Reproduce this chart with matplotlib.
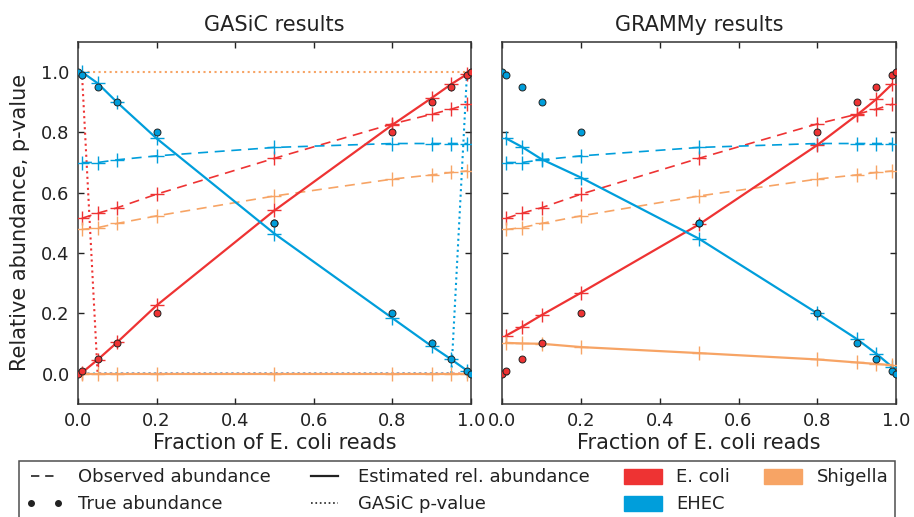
import numpy as np
import matplotlib
matplotlib.use("Agg")
import matplotlib.pyplot as plt
from matplotlib.lines import Line2D
from matplotlib.patches import Patch

# fraction of E. coli reads in each simulated sample
frac = [0.01, 0.05, 0.1, 0.2, 0.5, 0.8, 0.9, 0.95, 0.99]
frac_true = [0.0, 0.01, 0.05, 0.1, 0.2, 0.5, 0.8, 0.9, 0.95, 0.99, 1.0]

species = ['E. coli', 'EHEC', 'Shigella']
colors = ['#EE3333', '#009EDB', '#F7A465']

# true abundance (no Shigella in the mixes)
true_ecoli = [0.0, 0.01, 0.05, 0.1, 0.2, 0.5, 0.8, 0.9, 0.95, 0.99, 1.0]
true_ehec = [1.0, 0.99, 0.95, 0.9, 0.8, 0.5, 0.2, 0.1, 0.05, 0.01, 0.0]

# observed abundance (fraction of reads mapping to each reference)
obs_ecoli = [0.515, 0.532, 0.55, 0.595, 0.714, 0.828, 0.86, 0.877, 0.893]
obs_ehec = [0.70, 0.70, 0.709, 0.722, 0.75, 0.763, 0.763, 0.763, 0.763]
obs_shigella = [0.478, 0.484, 0.498, 0.523, 0.589, 0.645, 0.659, 0.667, 0.672]

# GASiC estimates
gasic_ecoli = [0.003, 0.046, 0.104, 0.226, 0.541, 0.825, 0.914, 0.96, 0.993]
gasic_ehec = [1.0, 0.963, 0.899, 0.78, 0.464, 0.184, 0.091, 0.047, 0.01]
gasic_shigella = [0.0, 0.0, 0.0, 0.0, 0.0, 0.0, 0.0, 0.0, 0.0]

# GASiC p-values
pval_ecoli = [1.0, 0.0, 0.0, 0.0, 0.0, 0.0, 0.0, 0.0, 0.0]
pval_ehec = [0.0, 0.0, 0.0, 0.0, 0.0, 0.0, 0.0, 0.0, 1.0]
pval_shigella = [1.0, 1.0, 1.0, 1.0, 1.0, 1.0, 1.0, 1.0, 1.0]

# GRAMMy estimates
grammy_ecoli = [0.126, 0.155, 0.194, 0.268, 0.495, 0.758, 0.857, 0.91, 0.96]
grammy_ehec = [0.78, 0.752, 0.711, 0.65, 0.447, 0.20, 0.115, 0.066, 0.022]
grammy_shigella = [0.102, 0.10, 0.099, 0.088, 0.068, 0.047, 0.037, 0.032, 0.028]

observed = [obs_ecoli, obs_ehec, obs_shigella]
true_vals = [true_ecoli, true_ehec]

plt.rcParams['font.family'] = 'DejaVu Sans'
plt.rcParams['text.color'] = '#222222'
plt.rcParams['axes.labelcolor'] = '#222222'

fig = plt.figure(figsize=(9.14, 5.17), dpi=100)
ax1 = fig.add_axes([0.0853, 0.219, 0.4300, 0.700])
ax2 = fig.add_axes([0.5494, 0.219, 0.4310, 0.700])


def draw_panel(ax, estimates, pvalues, title):
    for obs, c in zip(observed, colors):
        ax.plot(frac, obs, color=c, lw=1.2, dashes=(6, 4),
                marker='+', ms=9.5, mew=1.0, zorder=3)
    if pvalues is not None:
        for pv, c in zip(pvalues, colors):
            ax.plot(frac, pv, color=c, lw=1.5, ls=':', zorder=2)
    for est, c in zip(estimates, colors):
        ax.plot(frac, est, color=c, lw=1.6, marker='+', ms=9.5, mew=1.0, zorder=4)
    for tv, c in zip(true_vals, colors):
        ax.plot(frac_true, tv, ls='none', marker='o', ms=5, mfc=c,
                mec='#222222', mew=0.7, zorder=5)

    ax.set_xlim(0, 1)
    ax.set_ylim(-0.1, 1.1)
    ax.set_xticks(np.arange(0, 1.01, 0.2))
    ax.set_yticks(np.arange(0, 1.01, 0.2))
    ax.tick_params(direction='in', length=4.5, width=1, top=True, right=True,
                   labelsize=13, colors='#222222', pad=6)
    for sp in ax.spines.values():
        sp.set_linewidth(1.1)
        sp.set_color('#333333')
    ax.set_title(title, fontsize=15, pad=8)
    ax.set_xlabel('Fraction of E. coli reads', fontsize=15, labelpad=2)


draw_panel(ax1, [gasic_ecoli, gasic_ehec, gasic_shigella],
           [pval_ecoli, pval_ehec, pval_shigella], 'GASiC results')
draw_panel(ax2, [grammy_ecoli, grammy_ehec, grammy_shigella], None, 'GRAMMy results')
ax1.set_ylabel('Relative abundance, p-value', fontsize=15, labelpad=8)
ax2.set_yticklabels([])

handles = [
    Line2D([], [], color='#222222', lw=1.2, dashes=(5, 3.5)),
    Line2D([], [], color='#222222', ls='none', marker='o', ms=4),
    Line2D([], [], color='#222222', lw=1.6),
    Line2D([], [], color='#222222', lw=1.2, ls=':'),
    Patch(color=colors[0]),
    Patch(color=colors[1]),
    Patch(color=colors[2]),
]
labels = ['Observed abundance', 'True abundance', 'Estimated rel. abundance',
          'GASiC p-value', species[0], species[1], species[2]]
leg = fig.legend(handles, labels, ncol=4, loc='upper center',
                 bbox_to_anchor=(0.5, 0.108), fontsize=13, numpoints=2,
                 frameon=True, fancybox=False, edgecolor='#222222',
                 columnspacing=1.9, handlelength=2.1, handleheight=0.9,
                 borderaxespad=0)
leg.get_frame().set_linewidth(1.1)

fig.savefig('out.png', dpi=100)
